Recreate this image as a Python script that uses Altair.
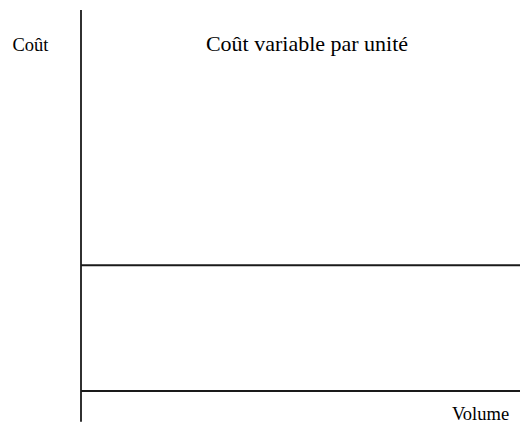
import altair as alt
import pandas as pd

# Data
volume = [0, 100]
variable_cost = [33, 33]          # constant variable cost per unit
cost_axis = [-8.1, 100]           # vertical axis extent
volume_axis = [0, 100]            # horizontal axis extent
title_text = ["Coût variable par unité"]

font = "Liberation Serif"

xs = alt.Scale(domain=[0, 100], range=[73, 512])
ys = alt.Scale(domain=[0, 100], range=[383, 2])

line_df = pd.DataFrame({"volume": volume, "cost": variable_cost})
vaxis_df = pd.DataFrame({"v": [0], "c0": [cost_axis[0]], "c1": [cost_axis[1]]})
haxis_df = pd.DataFrame({"v0": [volume_axis[0]], "v1": [volume_axis[1]], "c": [0]})
title_df = pd.DataFrame({"t": title_text})

stroke = "#1a1a1a"

xaxis = alt.Axis(domain=False, ticks=False, labels=False, grid=False,
                 title="Volume", titleFont=font, titleFontSize=18.5,
                 titleFontWeight="normal", titleColor="black",
                 titleX=472, titleY=-3, titleAlign="center",
                 titleBaseline="alphabetic", titleAnchor="start")
yaxis = alt.Axis(domain=False, ticks=False, labels=False, grid=False,
                 title="Coût", titleFont=font, titleFontSize=18.5,
                 titleFontWeight="normal", titleColor="black",
                 titleX=22, titleY=42.5, titleAngle=0, titleAlign="center",
                 titleBaseline="alphabetic", titleAnchor="start")

cost_line = alt.Chart(line_df).mark_line(color=stroke, strokeWidth=1.8).encode(
    x=alt.X("volume:Q", scale=xs, axis=xaxis),
    y=alt.Y("cost:Q", scale=ys, axis=yaxis),
)

vrule = alt.Chart(vaxis_df).mark_rule(color=stroke, strokeWidth=1.8).encode(
    x=alt.X("v:Q", scale=xs),
    y=alt.Y("c0:Q", scale=ys),
    y2="c1:Q",
)

hrule = alt.Chart(haxis_df).mark_rule(color=stroke, strokeWidth=1.8).encode(
    x=alt.X("v0:Q", scale=xs),
    x2="v1:Q",
    y=alt.Y("c:Q", scale=ys),
)

title = alt.Chart(title_df).mark_text(
    font=font, fontSize=22, color="black", align="center", baseline="alphabetic"
).encode(x=alt.value(299), y=alt.value(43), text="t:N")

chart = alt.layer(cost_line, vrule, hrule, title).properties(
    width=512, height=414,
    autosize=alt.AutoSizeParams(type="none"),
    padding=0,
).configure(background="white").configure_view(stroke=None)

chart.save("out.html", embed_options={"renderer": "svg", "actions": False})
